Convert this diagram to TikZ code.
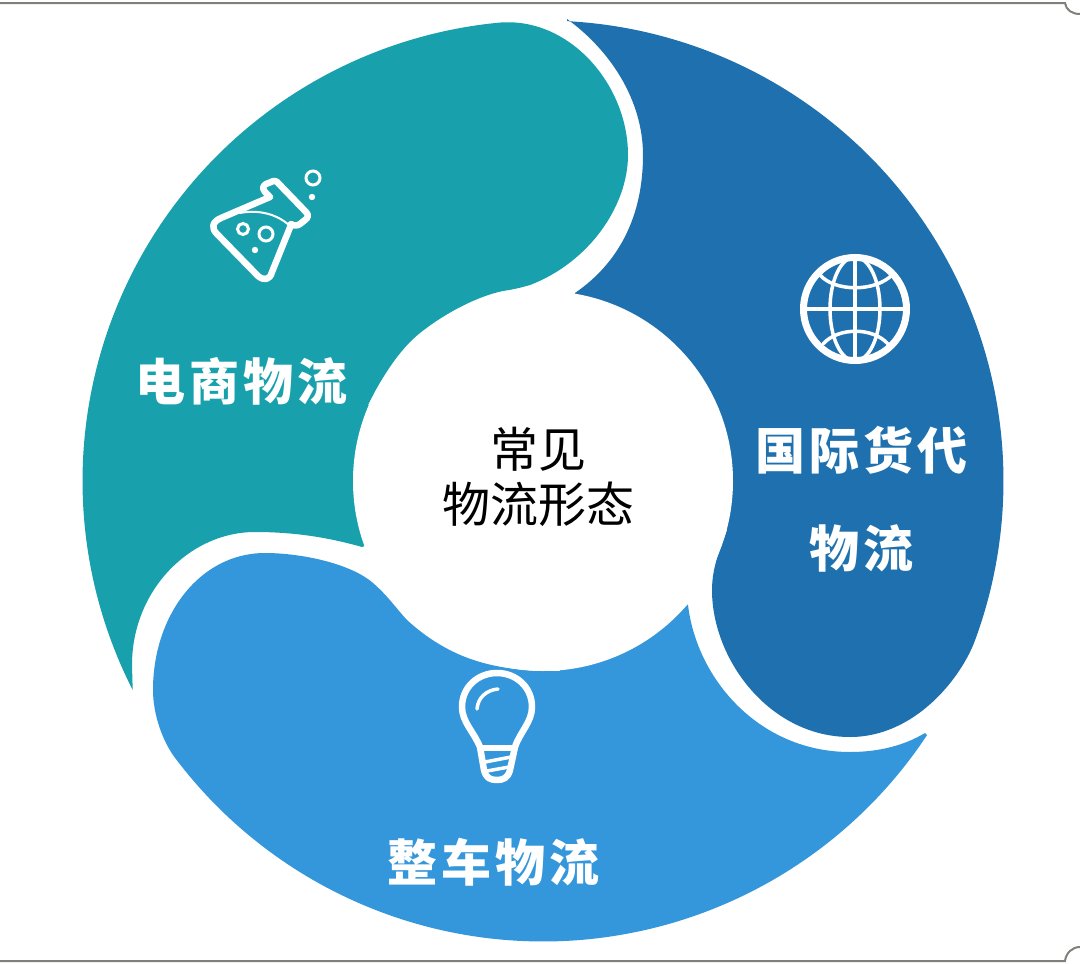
\documentclass[tikz,border=0pt]{standalone}
\usepackage{fontspec}
\newfontfamily\cjk[LetterSpace=8]{Noto Sans CJK SC}
\newfontfamily\cjkplain{Noto Sans CJK SC}
\definecolor{tealc}{RGB}{24,161,173}
\definecolor{darkc}{RGB}{30,113,174}
\definecolor{lightc}{RGB}{52,151,220}
\definecolor{framec}{RGB}{130,128,122}
\tikzset{
  icon/.style={draw=white,line width=6.5pt,line cap=round,line join=round},
  thin icon/.style={draw=white,line width=3.5pt,line cap=round,line join=round},
  label/.style={text=white,font=\cjk\bfseries\fontsize{50}{55}\selectfont,inner sep=0pt},
  centre/.style={text=black,font=\cjkplain\fontsize{48}{54}\selectfont,inner sep=0pt,align=center},
  frame/.style={draw=framec,line width=2pt}
}
\newcommand{\rim}[2]{plot[domain=#1:#2,samples=120] ({543+460.5*cos(\x)},{481+460.5*sin(\x)})}
\begin{document}
\begin{tikzpicture}[x=1pt,y=-1pt]
\useasboundingbox (0,0) rectangle (1080,964);
\fill[white] (0,0) rectangle (1080,964);
% frame
\draw[frame] (0,3) -- (1065,3) .. controls (1066,10) and (1072,14) .. (1080,14);
\draw[frame] (0,961) -- (1065,961) .. controls (1066,953) and (1072,947) .. (1080,947);
% blades
\fill[tealc] \rim{153}{264.6}
  .. controls (570,17) and (628,85) .. (628,155)
  .. controls (628,205) and (590,262) .. (530,285)
  .. controls (520,288) and (510,290) .. (503,291)
  .. controls (478,296) and (445,313) .. (420,333)
  .. controls (400,349) and (383,375) .. (368,405)
  -- (543,481) -- (362,547)
  .. controls (320,535) and (285,532) .. (255,532)
  .. controls (190,532) and (132,590) .. (132,665)
  -- cycle;
\fill[darkc] \rim{273}{380.3}
  .. controls (961,678) and (915,737) .. (850,737)
  .. controls (770,737) and (712,660) .. (712,590)
  .. controls (712,565) and (722,545) .. (727,530)
  -- (543,481) -- (575,293)
  .. controls (620,262) and (643,215) .. (643,155)
  .. controls (643,100) and (610,50) .. (567,19)
  -- cycle;
\fill[lightc] \rim{33.5}{143}
  .. controls (163,742) and (153,715) .. (153,690)
  .. controls (153,615) and (200,553) .. (265,553)
  .. controls (300,553) and (350,563) .. (373,583)
  .. controls (388,596) and (395,607) .. (407,620)
  .. controls (420,632) and (445,652) .. (480,662)
  .. controls (500,668) and (530,672) .. (560,671)
  -- (543,481) -- (688,605)
  .. controls (697,680) and (760,752) .. (850,752)
  .. controls (880,752) and (905,745) .. (925,733)
  -- cycle;
% centre disc
\fill[white] (543,481) circle[radius=190pt];
% flask
\draw[icon] (270,197) -- (221,218) .. controls (212,222) and (211,228) .. (217,234)
  -- (258,276) .. controls (264,281) and (270,280) .. (272,272) -- (291,225);
\draw[icon] (269,196) -- (265,192) .. controls (262,188) and (263,186) .. (266,184)
  -- (271,182) .. controls (274,180) and (277,181) .. (279,184)
  -- (306,212) .. controls (309,215) and (308,218) .. (305,220)
  -- (300,224) .. controls (297,226) and (294,226) .. (291,224);
\draw[white,line width=2pt,line cap=round] (240,213) .. controls (255,210) and (275,212) .. (290,226);
\draw[white,line width=3pt] (243,229) circle[radius=5.5pt];
\draw[white,line width=3pt] (266,234) circle[radius=7pt];
\fill[white] (255,250) circle[radius=3.2pt];
\draw[white,line width=3pt] (313,178) circle[radius=7pt];
\fill[white] (312,197) circle[radius=3.2pt];
% globe
\draw[white,line width=7pt] (855,309) circle[radius=51.5pt];
\begin{scope}
\clip (855,309) circle[radius=52pt];
\draw[thin icon] (855,309) ellipse[x radius=25pt,y radius=52pt];
\draw[thin icon] (855,256) -- (855,362);
\draw[thin icon] (803,309) -- (907,309);
\draw[thin icon] (820,275) .. controls (835,292) and (875,292) .. (892,275);
\draw[thin icon] (823,344) .. controls (838,327) and (873,327) .. (888,344);
\end{scope}
% bulb
\draw[icon] (480,747) .. controls (474,732) and (462,722) .. (462,707)
  .. controls (462,687) and (478,673) .. (497,673)
  .. controls (516,673) and (532,687) .. (532,707)
  .. controls (532,722) and (520,732) .. (515,747)
  -- (510,770) .. controls (508,778) and (503,780) .. (497,780)
  .. controls (490,780) and (486,778) .. (484,770) -- cycle;
\draw[icon] (481,748) -- (514,748);
\draw[thin icon] (485,762) -- (511,757);
\draw[thin icon] (487,771) -- (509,767);
\draw[thin icon] (477,709) .. controls (478,697) and (487,690) .. (498,689);
% labels
\node[label] (ds) at (241,381) {电商物流};
\node[label] (gj1) at (861,450) {国际货代};
\node[label] (gj2) at (861,548) {物流};
\node[label] (zc) at (493,862) {整车物流};
\node[centre] (c1) at (538,449) {常见};
\node[centre] (c2) at (538,504) {物流形态};
\end{tikzpicture}
\end{document}
